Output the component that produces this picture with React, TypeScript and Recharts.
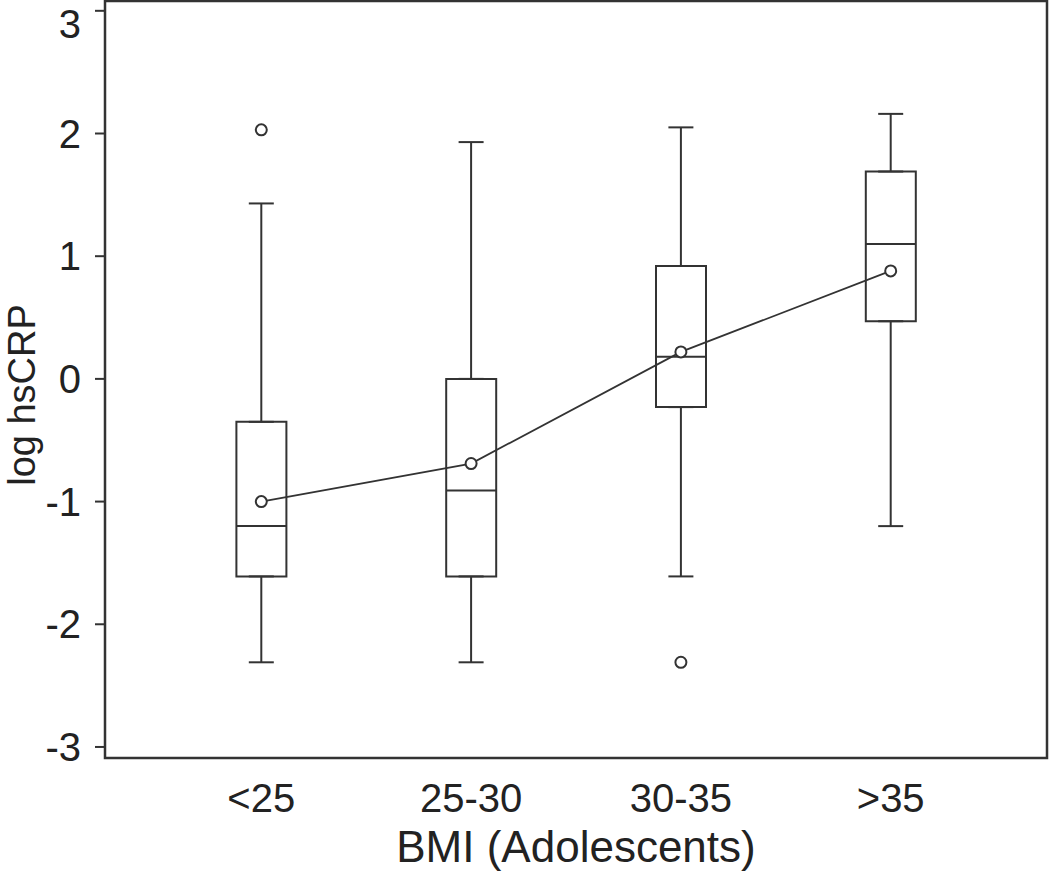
import {
  ComposedChart,
  Bar,
  Line,
  Scatter,
  ErrorBar,
  XAxis,
  YAxis,
  ReferenceArea,
} from 'recharts'

const categories = ['<25', '25-30', '30-35', '>35']
const whiskerLow = [-2.31, -2.31, -1.61, -1.2]
const q1 = [-1.61, -1.61, -0.23, 0.47]
const median = [-1.2, -0.91, 0.18, 1.1]
const q3 = [-0.35, 0.0, 0.92, 1.69]
const whiskerHigh = [1.43, 1.93, 2.05, 2.16]
const means = [-1.0, -0.69, 0.22, 0.88]
const outlierPos = [1, 3]
const outlierVals = [2.03, -2.31]
const yTicks = [-3, -2, -1, 0, 1, 2, 3]

const X_DOMAIN: [number, number] = [0.255, 4.745]
const Y_DOMAIN: [number, number] = [-3.09, 3.08]
const INK = '#333'
const FONT = '"Liberation Sans", Arial, sans-serif'

const data = categories.map((c, i) => ({
  x: i + 1,
  name: c,
  box: [q1[i], q3[i]],
  q1: q1[i],
  q3: q3[i],
  median: median[i],
  mean: means[i],
  upErr: [0, whiskerHigh[i] - q3[i]],
  lowErr: [q1[i] - whiskerLow[i], 0],
}))

const outliers = outlierPos.map((x, i) => ({ x, y: outlierVals[i] }))

const Empty = () => <g />

const MedianLine = (props: any) => {
  const { cx, cy } = props
  return <line x1={cx - 25} x2={cx + 25} y1={cy} y2={cy} stroke={INK} strokeWidth={2} />
}

const Ring = (props: any) => {
  const { cx, cy } = props
  return <circle cx={cx} cy={cy} r={5.5} fill="#fff" stroke={INK} strokeWidth={2} />
}

export default function App() {
  return (
    <div style={{ position: 'absolute', left: 0, top: 0, background: '#fff' }}>
      <ComposedChart
        width={1050}
        height={871}
        data={data}
        margin={{ top: 1, right: 3, bottom: 0, left: 0 }}
        style={{ fontFamily: FONT }}
      >
        <XAxis
          dataKey="x"
          type="number"
          domain={X_DOMAIN}
          allowDataOverflow
          ticks={[1, 2, 3, 4]}
          tickFormatter={(v: number) => categories[v - 1] ?? ''}
          axisLine={false}
          tickLine={false}
          tickSize={0}
          tickMargin={26}
          height={113}
          tick={{ fontSize: 40, fill: '#222', fontFamily: FONT }}
          label={{
            value: 'BMI (Adolescents)',
            position: 'insideBottom',
            offset: 9,
            fontSize: 44,
            fill: '#222',
            fontFamily: FONT,
          }}
        />
        <YAxis
          type="number"
          domain={Y_DOMAIN}
          allowDataOverflow
          ticks={yTicks}
          width={105}
          axisLine={false}
          tickSize={10}
          tickMargin={14}
          tickLine={{ stroke: INK, strokeWidth: 2 }}
          tick={{ fontSize: 40, fill: '#222', fontFamily: FONT }}
          label={{
            content: () => (
              <text
                x={35}
                y={395}
                transform="rotate(-90 35 395)"
                textAnchor="middle"
                fontSize={38}
                fill="#222"
                fontFamily={FONT}
              >
                log hsCRP
              </text>
            ),
          }}
        />
        <ReferenceArea
          x1={X_DOMAIN[0]}
          x2={X_DOMAIN[1]}
          y1={Y_DOMAIN[0]}
          y2={Y_DOMAIN[1]}
          fill="none"
          stroke={INK}
          strokeWidth={2.5}
        />
        <Scatter dataKey="q3" shape={Empty} isAnimationActive={false}>
          <ErrorBar dataKey="upErr" direction="y" width={12.5} stroke={INK} strokeWidth={2} />
        </Scatter>
        <Scatter dataKey="q1" shape={Empty} isAnimationActive={false}>
          <ErrorBar dataKey="lowErr" direction="y" width={12.5} stroke={INK} strokeWidth={2} />
        </Scatter>
        <Bar dataKey="box" barSize={50} fill="#fff" stroke={INK} strokeWidth={2} isAnimationActive={false} />
        <Scatter dataKey="median" shape={MedianLine} isAnimationActive={false} />
        <Line
          dataKey="mean"
          type="linear"
          stroke={INK}
          strokeWidth={1.8}
          dot={Ring}
          activeDot={false}
          isAnimationActive={false}
        />
        <Scatter data={outliers} dataKey="y" shape={Ring} isAnimationActive={false} />
      </ComposedChart>
    </div>
  )
}
